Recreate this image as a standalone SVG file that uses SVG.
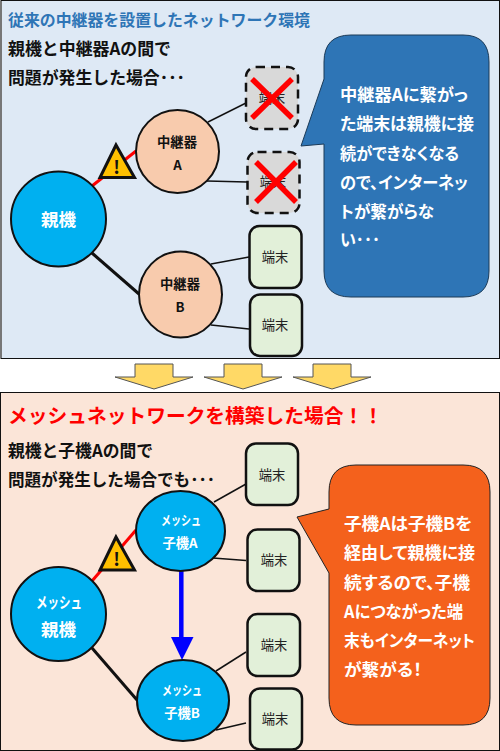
<svg xmlns="http://www.w3.org/2000/svg" width="500" height="751" viewBox="0 0 500 751">
<style>
text{font-family:"Noto Sans CJK JP","Noto Sans",sans-serif;font-weight:700}
.m{text-anchor:middle}
.head{font-size:16.9px;fill:#111}
.call{font-size:16.6px;fill:#fff;font-feature-settings:"palt"}
.term rect{fill:#E2F0D9;stroke:#111;stroke-width:2.5}
.dead rect{fill:#D9D9D9;stroke:#111;stroke-width:2.5;stroke-dasharray:9 6}
.tt{font-size:13.3px;font-weight:400;fill:#222;text-anchor:middle}
.x{stroke:#F00;stroke-width:5.5;fill:none}
.peach{fill:#F8CBAD;stroke:#111;stroke-width:2}
.blue{fill:#00B0F0;stroke:#111;stroke-width:2}
.nt{font-size:13.3px;fill:#111;text-anchor:middle}
.wt{font-size:13.3px;fill:#fff;text-anchor:middle}
.big{font-size:17.5px;fill:#fff;text-anchor:middle}
.thin{stroke:#111;stroke-width:1.5;fill:none}
.thick{stroke:#111;stroke-width:3;fill:none}
.red{stroke:#F00;stroke-width:3;fill:none}
.tri{fill:#FFC000;stroke:#111;stroke-width:3;stroke-linejoin:miter}
.arr{fill:#FFD966;stroke:#555;stroke-width:1}
</style>
<rect width="500" height="751" fill="#fff"/>
<g id="panel-top">
<rect x="1" y="0.5" width="498.5" height="358" fill="#DEE9F5" stroke="#111" stroke-width="1"/>
<line x1="1" y1="1" x2="1" y2="358" stroke="#777" stroke-width="2"/>
<text x="8" y="26" fill="#2E75B6" style="font-size:15.9px" textLength="302" lengthAdjust="spacingAndGlyphs">従来の中継器を設置したネットワーク環境</text>
<text x="8" y="55" class="head" textLength="163" lengthAdjust="spacingAndGlyphs">親機と中継器Aの間で</text>
<text x="8" y="84" class="head" textLength="177" lengthAdjust="spacingAndGlyphs">問題が発生した場合･･･</text>
</g>
<g id="panel-bottom">
<rect x="0.5" y="392.5" width="499" height="358" fill="#FBE5D8" stroke="#111" stroke-width="1"/>
<text x="8" y="423" fill="#F00" style="font-size:19.8px" textLength="375" lengthAdjust="spacingAndGlyphs">メッシュネットワークを構築した場合！！</text>
<text x="8" y="457" class="head" textLength="145" lengthAdjust="spacingAndGlyphs">親機と子機Aの間で</text>
<text x="8" y="486" class="head" textLength="207" lengthAdjust="spacingAndGlyphs">問題が発生した場合でも･･･</text>
</g>
<g id="connectors">
<line class="red" x1="92" y1="186" x2="136" y2="151"/>
<line class="thick" x1="92" y1="253" x2="139" y2="294"/>
<line class="thin" x1="208" y1="122" x2="246" y2="103"/>
<line class="thin" x1="207" y1="181" x2="247" y2="182"/>
<line class="thin" x1="211" y1="264" x2="249" y2="257"/>
<line class="thin" x1="211" y1="325" x2="249" y2="329"/>
<line class="red" x1="92" y1="581" x2="136" y2="530"/>
<line class="thick" x1="92" y1="648" x2="137" y2="700"/>
<line class="thin" x1="214" y1="502" x2="246" y2="484"/>
<line class="thin" x1="213" y1="558" x2="246" y2="560.5"/>
<line class="thin" x1="216" y1="671" x2="246" y2="652"/>
<line class="thin" x1="216" y1="730" x2="246" y2="723"/>
<line x1="181.3" y1="571" x2="181.3" y2="638" stroke="#00F" stroke-width="4.5"/>
<polygon points="171,637 193.500,637 182,660" fill="#00F"/>
</g>
<g id="arrows">
<polygon class="arr" points="135,364 173,364 173,377 193,377 154,389 115,377 135,377"/>
<polygon class="arr" points="224,364 262,364 262,377 282,377 243,389 204,377 224,377"/>
<polygon class="arr" points="313,364 351,364 351,377 371,377 332,389 293,377 313,377"/>
</g>
<g id="warn-top"><polygon class="tri" points="116,145 100,177.500 134.500,177.500"/><text x="116.500" y="174" class="m" style="font-size:18px" fill="#111">!</text></g>
<g id="warn-bottom"><polygon class="tri" points="116,537 100,570 134.500,570"/><text x="116.500" y="566" class="m" style="font-size:18px" fill="#111">!</text></g>
<g id="parent-top"><circle class="blue" cx="58.500" cy="219" r="47.500"/><text x="58.500" y="226" class="big">親機</text></g>
<g id="relay-a"><circle class="peach" cx="177.500" cy="151.500" r="41.500"/><text x="177" y="146.500" class="nt">中継器</text><text x="177.500" y="170" class="nt">A</text></g>
<g id="relay-b"><ellipse class="peach" cx="180.500" cy="294.500" rx="41.500" ry="43"/><text x="180" y="289" class="nt">中継器</text><text x="180" y="312" class="nt">B</text></g>
<g id="term-t1" class="dead"><rect x="246" y="67" width="52" height="62" rx="10"/><text x="272" y="103" class="tt">端末</text><path class="x" d="M252 79L292 118M292 79L252 118"/></g>
<g id="term-t2" class="dead"><rect x="247.500" y="152" width="52" height="61" rx="10"/><text x="273" y="187" class="tt">端末</text><path class="x" d="M256 162L296 202M296 162L256 202"/></g>
<g id="term-t3" class="term"><rect x="249.500" y="226" width="52" height="62" rx="10"/><text x="275" y="262" class="tt">端末</text></g>
<g id="term-t4" class="term"><rect x="250" y="294.500" width="52" height="61.500" rx="10"/><text x="275" y="330" class="tt">端末</text></g>
<g id="callout-top"><path d="M324 62Q324 35 351 35H463Q489 35 489 62V271Q489 297 463 297H351Q324 297 324 271V144L301 146L324 79Z" fill="#2E75B6" stroke="#1B3A57" stroke-width="1"/>
<text x="340" y="101" class="call" textLength="128" lengthAdjust="spacingAndGlyphs">中継器Aに繋がっ</text><text x="340" y="130" class="call" textLength="134" lengthAdjust="spacingAndGlyphs">た端末は親機に接</text><text x="340" y="160" class="call" textLength="119" lengthAdjust="spacingAndGlyphs">続ができなくなる</text><text x="340" y="189" class="call" textLength="128" lengthAdjust="spacingAndGlyphs">ので、インターネッ</text><text x="340" y="218" class="call" textLength="94" lengthAdjust="spacingAndGlyphs">トが繋がらな</text><text x="340" y="246" class="call" textLength="40" lengthAdjust="spacingAndGlyphs">い･･･</text></g>
<g id="parent-bottom"><ellipse class="blue" cx="58.500" cy="614" rx="47.500" ry="47"/><text x="59" y="608" class="wt" style="font-size:15.5px" textLength="46" lengthAdjust="spacingAndGlyphs">メッシュ</text><text x="58.500" y="635.500" class="big">親機</text></g>
<g id="child-a"><ellipse class="blue" cx="180.500" cy="531" rx="44.500" ry="40"/><text x="181" y="525" class="wt" textLength="40" lengthAdjust="spacingAndGlyphs">メッシュ</text><text x="180" y="548" class="wt">子機A</text></g>
<g id="child-b"><ellipse class="blue" cx="183" cy="700.500" rx="46" ry="40.500"/><text x="182" y="695" class="wt" textLength="40" lengthAdjust="spacingAndGlyphs">メッシュ</text><text x="182" y="718" class="wt">子機B</text></g>
<g id="term-b1" class="term"><rect x="246" y="443.500" width="52" height="61.500" rx="10"/><text x="272" y="480" class="tt">端末</text></g>
<g id="term-b2" class="term"><rect x="247.500" y="529.500" width="52" height="61.500" rx="10"/><text x="274" y="565" class="tt">端末</text></g>
<g id="term-b3" class="term"><rect x="247.500" y="614" width="52.500" height="62" rx="10"/><text x="274" y="650" class="tt">端末</text></g>
<g id="term-b4" class="term"><rect x="250" y="688.500" width="52" height="61" rx="10"/><text x="275" y="724" class="tt">端末</text></g>
<g id="callout-bottom"><path d="M329 492Q329 465 356 465H463Q490 465 490 492V698Q490 725 463 725H356Q329 725 329 698V573L297 517L329 509Z" fill="#F4611C" stroke="#222" stroke-width="1"/>
<text x="344" y="530" class="call" textLength="128" lengthAdjust="spacingAndGlyphs">子機Aは子機Bを</text><text x="344" y="559" class="call" textLength="131" lengthAdjust="spacingAndGlyphs">経由して親機に接</text><text x="344" y="589" class="call" textLength="126" lengthAdjust="spacingAndGlyphs">続するので、子機</text><text x="344" y="618" class="call" textLength="119" lengthAdjust="spacingAndGlyphs">Aにつながった端</text><text x="344" y="647" class="call" textLength="131" lengthAdjust="spacingAndGlyphs">末もインターネット</text><text x="344" y="676" class="call" textLength="78" lengthAdjust="spacingAndGlyphs">が繋がる！</text></g>
</svg>
